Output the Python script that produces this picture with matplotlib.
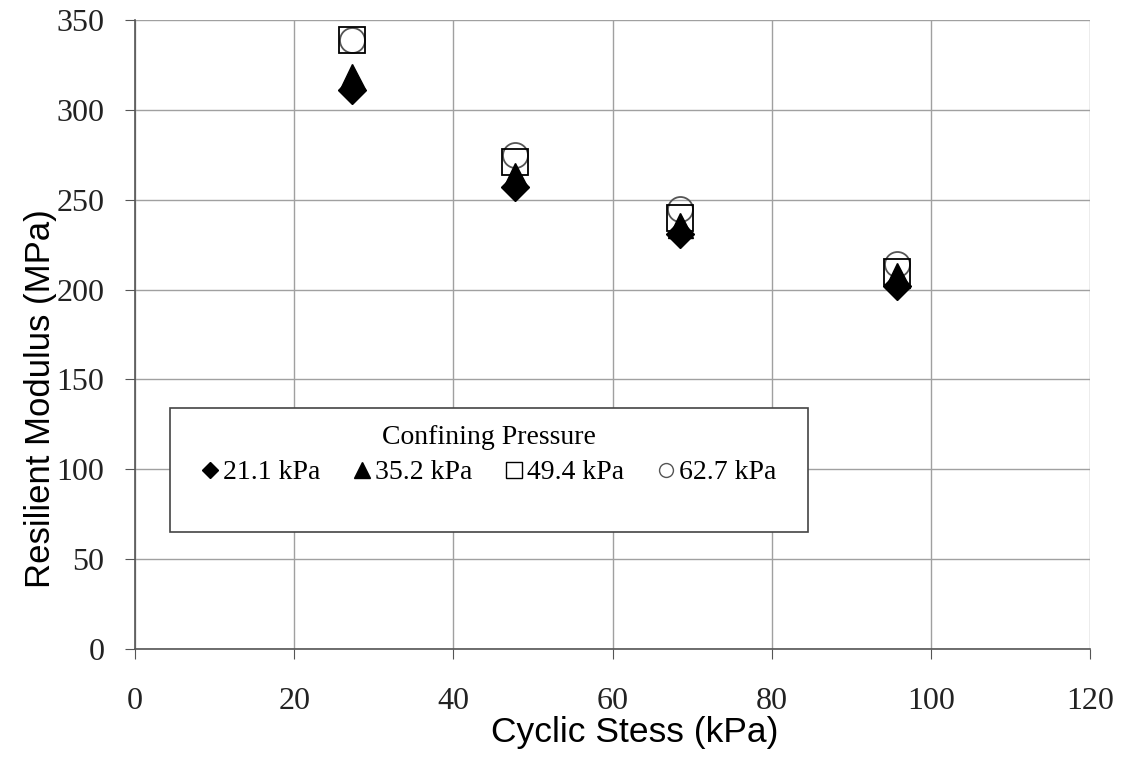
import numpy as np
import matplotlib.pyplot as plt
from matplotlib.patches import Rectangle

# data
cyclic_stress = [27.3, 47.7, 68.5, 95.8]
pressures = ['21.1 kPa', '35.2 kPa', '49.4 kPa', '62.7 kPa']
mr_21 = [311, 257, 231, 202]
mr_35 = [319, 264, 236, 208]
mr_49 = [339, 271, 240, 210]
mr_62 = [339, 275, 245, 214]

x_ticks = [0, 20, 40, 60, 80, 100, 120]
y_ticks = [0, 50, 100, 150, 200, 250, 300, 350]

serif = ['Liberation Serif', 'DejaVu Serif']
sans = ['Liberation Sans', 'DejaVu Sans']

fig = plt.figure(figsize=(11.21, 7.63), dpi=100)
ax = fig.add_axes([0.1204, 0.1494, 0.8520, 0.8244])

styles = [
    dict(marker='D', ms=14, mfc='black', mec='black'),
    dict(marker='^', ms=18, mfc='black', mec='black'),
    dict(marker='s', ms=18.5, mfc='none', mec='black', mew=1.3),
    dict(marker='o', ms=18, mfc='none', mec='#555555', mew=1.3),
]
legend_ms = [8.5, 11.5, 11.5, 10]
series = [mr_21, mr_35, mr_49, mr_62]

# open markers first, filled ones on top
for i in [3, 2, 1, 0]:
    ax.plot(cyclic_stress, series[i], linestyle='none', zorder=3 + (3 - i), **styles[i])

handles = []
for i in range(4):
    st = dict(styles[i])
    st['ms'] = legend_ms[i]
    st['mew'] = 1.0
    h, = ax.plot([], [], linestyle='none', label=pressures[i], **st)
    handles.append(h)

ax.set_xlim(0, 120)
ax.set_ylim(0, 350)
ax.set_xticks(x_ticks)
ax.set_yticks(y_ticks)
ax.grid(True, color='#a0a0a0', linewidth=1.0)
ax.set_axisbelow(True)
for s in ['top', 'right']:
    ax.spines[s].set_visible(False)
for s in ['left', 'bottom']:
    ax.spines[s].set_color('#555555')
    ax.spines[s].set_linewidth(1.2)
ax.tick_params(direction='out', length=7, color='#555555')
ax.tick_params(axis='x', pad=20)
ax.tick_params(axis='y', pad=15)
for lab in ax.get_xticklabels() + ax.get_yticklabels():
    lab.set_family(serif)
    lab.set_fontsize(23)
    lab.set_color('#222222')

ax.set_xlabel('Cyclic Stess (kPa)', family=sans, fontsize=25.5, va='center')
ax.set_ylabel('Resilient Modulus (MPa)', family=sans, fontsize=25, va='center', ha='center')
ax.xaxis.set_label_coords(0.5236, -0.133)
ax.yaxis.set_label_coords(-0.0984, 0.3975)

# legend box
ax.add_patch(Rectangle((4.4, 65), 80.1, 69, facecolor='white', edgecolor='#444444',
                       linewidth=1.2, zorder=8))
leg = ax.legend(handles=handles, loc='upper center', bbox_to_anchor=(0.3707, 0.3775),
                ncol=4, frameon=False, title='Confining Pressure',
                prop={'family': serif, 'size': 20}, handlelength=0.6,
                handletextpad=0.15, columnspacing=1.22, labelspacing=0.34,
                borderpad=0.0)
leg.get_title().set_family(serif)
leg.get_title().set_fontsize(20)
leg.set_zorder(9)

fig.savefig('out.png', dpi=100)
